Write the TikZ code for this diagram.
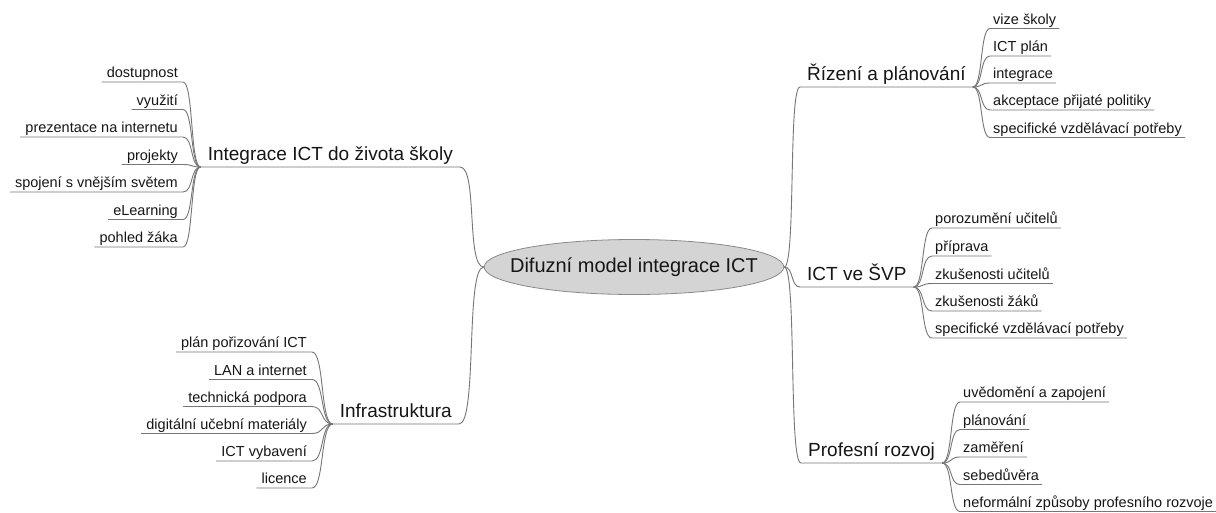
\documentclass[tikz,border=0pt]{standalone}
\usepackage{fontspec}
\setmainfont{Liberation Sans}
\usetikzlibrary{calc,shapes.geometric}
\definecolor{ln}{HTML}{767676}
\definecolor{tx}{HTML}{161616}
\definecolor{elf}{HTML}{D4D4D4}
\definecolor{eld}{HTML}{8A8A8A}
\tikzset{
  sc/.style={to path={let \p1=(\tikztostart), \p2=(\tikztotarget) in
    .. controls ({\x1+#1*(\x2-\x1)},\y1) and ({\x2-#1*(\x2-\x1)},\y2) .. (\tikztotarget) \tikztonodes}},
  sc/.default=0.6,
  conn/.style={draw=ln, line width=0.9pt},
  centre/.style={ellipse, fill=elf, draw=eld, line width=0.8pt, minimum width=298pt, minimum height=55pt, inner xsep=-18pt, inner ysep=0pt, text=tx, font=\fontsize{20}{24}\selectfont},
  mainb/.style={inner xsep=7pt, inner ysep=1.8pt, text=tx, text height=14pt, text depth=4.2pt, font=\fontsize{19}{22}\selectfont},
  leafl/.style={inner xsep=5pt, inner ysep=0.8pt, text=tx, text height=10.5pt, text depth=3.2pt, font=\fontsize{14.5}{17}\selectfont, anchor=south east},
  leafr/.style={inner xsep=3pt, inner ysep=0.8pt, text=tx, text height=10.5pt, text depth=3.2pt, font=\fontsize{14.5}{17}\selectfont, anchor=south west},
}
\begin{document}
\begin{tikzpicture}[x=1pt,y=-1pt]
\useasboundingbox (0,0) rectangle (1216,512);
\fill[white] (0,0) rectangle (1216,512);

\node[centre] (c) at (634,267) {Difuzní model integrace ICT};

\node[mainb, anchor=south east] (int) at (460,167) {Integrace ICT do života školy};
\node[mainb, anchor=south east] (inf) at (459,424) {Infrastruktura};
\node[mainb, anchor=south west] (riz) at (800,87) {Řízení a plánování};
\node[mainb, anchor=south west] (svp) at (800,287) {ICT ve ŠVP};
\node[mainb, anchor=south west] (pro) at (801,463) {Profesní rozvoj};

\draw[conn] (c.west) to[sc=0.75] (int.south east) -- (int.south west);
\draw[conn] (c.west) to[sc=0.75] (inf.south east) -- (inf.south west);
\draw[conn] (c.east) to[sc=0.75] (riz.south west) -- (riz.south east);
\draw[conn] (c.east) to[sc=0.6] (svp.south west) -- (svp.south east);
\draw[conn] (c.east) to[sc=0.75] (pro.south west) -- (pro.south east);

% Integrace leaves
\node[leafl] (a1) at (183,82) {dostupnost};
\node[leafl] (a2) at (183,109.5) {využití};
\node[leafl] (a3) at (183,137) {prezentace na internetu};
\node[leafl] (a4) at (183,164.5) {projekty};
\node[leafl] (a5) at (183,192) {spojení s vnějším světem};
\node[leafl] (a6) at (183,219.5) {eLearning};
\node[leafl] (a7) at (183,247) {pohled žáka};
\foreach \nd in {a1,a2,a3,a4,a5,a6,a7}
  \draw[conn] (int.south west) to[sc] (\nd.south east) -- (\nd.south west);

% Infrastruktura leaves
\node[leafl] (b1) at (312,352) {plán pořizování ICT};
\node[leafl] (b2) at (312,379.5) {LAN a internet};
\node[leafl] (b3) at (312,406.5) {technická podpora};
\node[leafl] (b4) at (312,433.5) {digitální učební materiály};
\node[leafl] (b5) at (312,461) {ICT vybavení};
\node[leafl] (b6) at (312,488) {licence};
\foreach \nd in {b1,b2,b3,b4,b5,b6}
  \draw[conn] (inf.south west) to[sc] (\nd.south east) -- (\nd.south west);

% Rizeni leaves
\node[leafr] (r1) at (990,28.5) {vize školy};
\node[leafr] (r2) at (990,56) {ICT plán};
\node[leafr] (r3) at (990,83) {integrace};
\node[leafr] (r4) at (990,110) {akceptace přijaté politiky};
\node[leafr] (r5) at (990,137.5) {specifické vzdělávací potřeby};
\foreach \nd in {r1,r2,r3,r4,r5}
  \draw[conn] (riz.south east) to[sc] (\nd.south west) -- (\nd.south east);

% ICT ve SVP leaves
\node[leafr] (s1) at (932,228) {porozumění učitelů};
\node[leafr] (s2) at (932,256) {příprava};
\node[leafr] (s3) at (932,283.5) {zkušenosti učitelů};
\node[leafr] (s4) at (932,311) {zkušenosti žáků};
\node[leafr] (s5) at (932,338) {specifické vzdělávací potřeby};
\foreach \nd in {s1,s2,s3,s4,s5}
  \draw[conn] (svp.south east) to[sc] (\nd.south west) -- (\nd.south east);

% Profesni rozvoj leaves
\node[leafr] (p1) at (960,402) {uvědomění a zapojení};
\node[leafr] (p2) at (960,429.5) {plánování};
\node[leafr] (p3) at (960,457) {zaměření};
\node[leafr] (p4) at (960,484.5) {sebedůvěra};
\node[leafr] (p5) at (960,511.5) {neformální způsoby profesního rozvoje};
\foreach \nd in {p1,p2,p3,p4,p5}
  \draw[conn] (pro.south east) to[sc] (\nd.south west) -- (\nd.south east);
\end{tikzpicture}
\end{document}
